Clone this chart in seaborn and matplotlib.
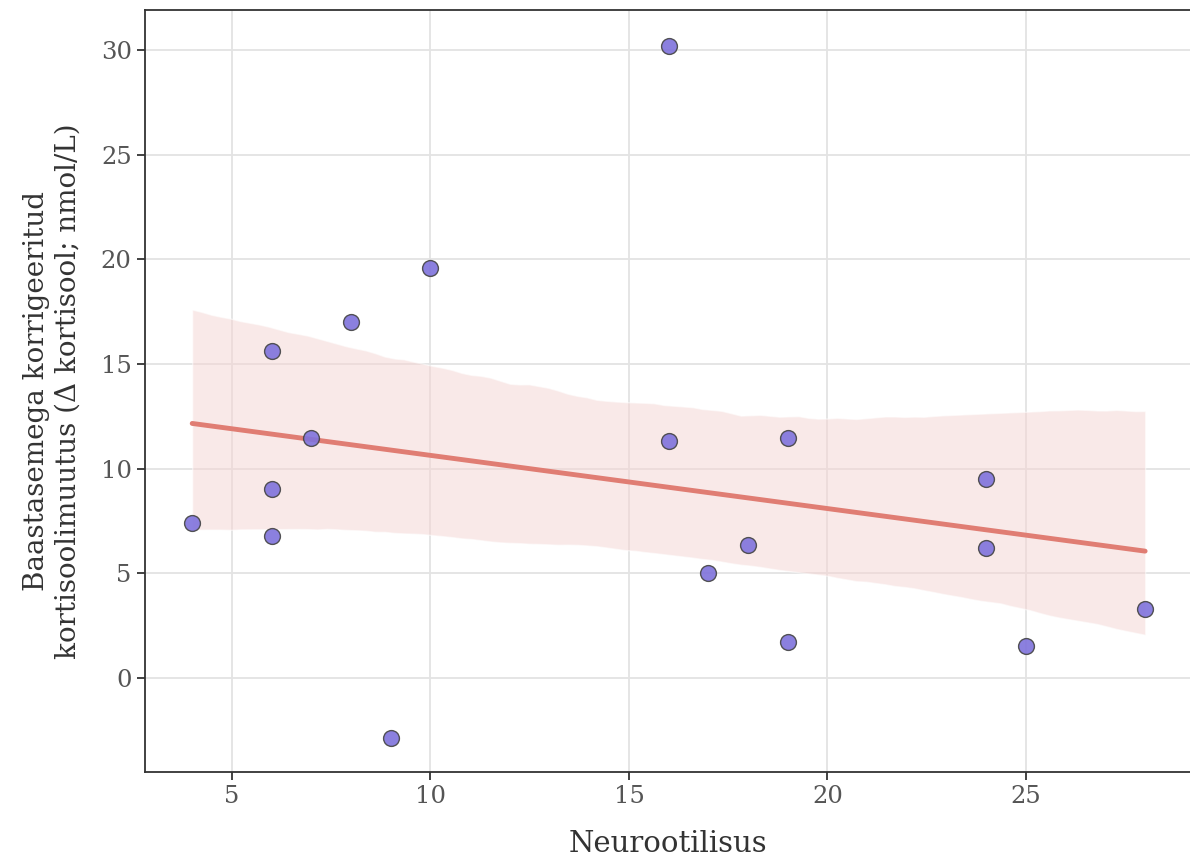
import numpy as np
import pandas as pd
import seaborn as sns
from matplotlib import pyplot as plt

# values
neuro = [4, 6, 6, 6, 7, 8, 9, 10, 16, 16, 17, 18, 19, 19, 24, 24, 25, 28]
cortisol = [7.4, 15.6, 9.05, 6.8, 11.45, 17.0, -2.85, 19.6, 30.2, 11.3,
            5.0, 6.35, 11.45, 1.7, 9.5, 6.2, 1.55, 3.3]

df = pd.DataFrame({'Neurootilisus': neuro, 'cortisol': cortisol})

sns.set_style('whitegrid')
plt.rcParams['font.family'] = ['DejaVu Serif']

fig = plt.figure(figsize=(11.9, 8.6), dpi=100)
ax = fig.add_axes([0.1218, 0.1023, 0.8782, 0.8861])

sns.regplot(data=df, x='Neurootilisus', y='cortisol', ax=ax, seed=7,
            scatter_kws={'s': 130, 'color': '#7f72dc', 'alpha': 0.9,
                         'edgecolor': '#444444', 'linewidths': 1.0, 'zorder': 3},
            line_kws={'color': '#e07d73', 'lw': 3.5, 'zorder': 2})

# soften the confidence band
ax.collections[1].set_facecolor('#f5d5d2')
ax.collections[1].set_alpha(0.5)

ax.set_xlim(2.81, 29.13)
ax.set_ylim(-4.49, 31.91)
ax.set_xticks([5, 10, 15, 20, 25])
ax.set_yticks([0, 5, 10, 15, 20, 25, 30])

ax.grid(True, color='#e3e3e3', lw=1.3)
ax.set_axisbelow(True)
for side in ['left', 'bottom', 'top']:
    ax.spines[side].set_color('#333333')
    ax.spines[side].set_linewidth(1.3)
ax.spines['right'].set_visible(False)

ax.tick_params(axis='both', which='both', length=6, width=1.3, color='#333333',
               labelsize=17.5, labelcolor='#555555', direction='out')
ax.xaxis.set_ticks_position('bottom')
ax.yaxis.set_ticks_position('left')

ax.set_xlabel('Neurootilisus', fontsize=21, color='#333333', labelpad=16)
ax.set_ylabel('Baastasemega korrigeeritud\nkortisoolimuutus (\u0394 kortisool; nmol/L)',
              fontsize=20, color='#333333', labelpad=14)

fig.savefig('out.png', dpi=100)
